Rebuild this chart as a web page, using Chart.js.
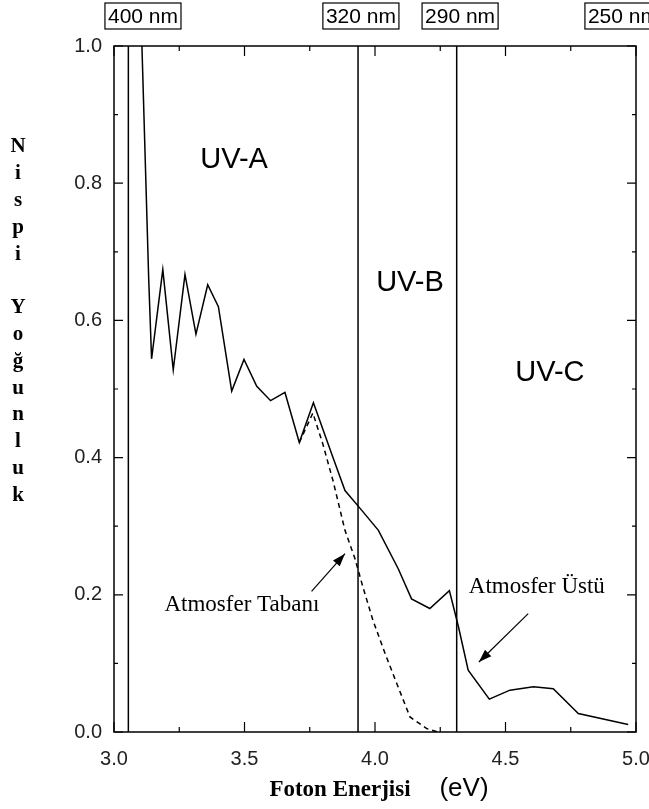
<!DOCTYPE html>
<html>
<head>
<meta charset="utf-8">
<script src="https://cdn.jsdelivr.net/npm/chart.js@4.4.0/dist/chart.umd.min.js"></script>
<style>
html, body { margin: 0; padding: 0; background: #fff; }
</style>
</head>
<body>
<canvas id="chart" width="649" height="809"></canvas>
<script>
// Atmosfer Üstü (solid line)
var energyTop = [3.107, 3.133, 3.144, 3.187, 3.227, 3.272, 3.314, 3.359, 3.40, 3.451, 3.498, 3.547, 3.60, 3.655, 3.71, 3.764, 3.839, 3.885, 3.943, 4.013, 4.089, 4.14, 4.21, 4.285, 4.32, 4.357, 4.438, 4.517, 4.607, 4.683, 4.779, 4.97];
var intensityTop = [1.0, 0.66, 0.544, 0.674, 0.528, 0.667, 0.58, 0.652, 0.62, 0.497, 0.543, 0.504, 0.483, 0.495, 0.422, 0.48, 0.4, 0.352, 0.326, 0.294, 0.238, 0.194, 0.18, 0.206, 0.153, 0.09, 0.048, 0.061, 0.066, 0.063, 0.027, 0.011];

// Atmosfer Tabanı (dashed line)
var energyBottom = [3.71, 3.762, 3.80, 3.84, 3.885, 3.923, 3.954, 3.992, 4.038, 4.083, 4.134, 4.198, 4.24];
var intensityBottom = [0.422, 0.465, 0.42, 0.365, 0.294, 0.253, 0.211, 0.163, 0.115, 0.071, 0.022, 0.005, 0.0];

// UV band boundaries (eV) and wavelength markers on top
var regionBounds = [3.055, 3.935, 4.313];
var waveLabels = ['400 nm', '320 nm', '290 nm', '250 nm'];
var waveEnergy = [3.111, 3.946, 4.326, 4.95];
var bandNames = ['UV-A', 'UV-B', 'UV-C'];

function toPoints(xs, ys) {
    return xs.map(function (v, i) { return { x: v, y: ys[i] }; });
}

function arrow(ctx, x1, y1, x2, y2) {
    var ang = Math.atan2(y2 - y1, x2 - x1);
    ctx.beginPath();
    ctx.moveTo(x1, y1);
    ctx.lineTo(x2, y2);
    ctx.stroke();
    ctx.beginPath();
    ctx.moveTo(x2, y2);
    ctx.lineTo(x2 - 13 * Math.cos(ang) + 4.5 * Math.sin(ang), y2 - 13 * Math.sin(ang) - 4.5 * Math.cos(ang));
    ctx.lineTo(x2 - 13 * Math.cos(ang) - 4.5 * Math.sin(ang), y2 - 13 * Math.sin(ang) + 4.5 * Math.cos(ang));
    ctx.closePath();
    ctx.fill();
}

var decorations = {
    id: 'decorations',
    afterDatasetsDraw: function (chart) {
        var ctx = chart.ctx, a = chart.chartArea;
        var sx = chart.scales.x, sy = chart.scales.y;
        ctx.save();
        ctx.strokeStyle = '#000';
        ctx.fillStyle = '#000';
        ctx.lineWidth = 1.5;

        // band boundaries
        regionBounds.forEach(function (e) {
            var px = sx.getPixelForValue(e);
            ctx.beginPath();
            ctx.moveTo(px, a.top);
            ctx.lineTo(px, a.bottom);
            ctx.stroke();
        });

        // frame
        ctx.strokeRect(a.left, a.top, a.right - a.left, a.bottom - a.top);

        // inward ticks
        ctx.lineWidth = 1.2;
        for (var v = 3; v <= 5.001; v += 0.25) {
            var px = sx.getPixelForValue(v);
            var len = (Math.round(v * 4) % 2 === 0) ? 10 : 5;
            ctx.beginPath();
            ctx.moveTo(px, a.bottom); ctx.lineTo(px, a.bottom - len);
            ctx.moveTo(px, a.top); ctx.lineTo(px, a.top + len);
            ctx.stroke();
        }
        for (var w = 0; w <= 1.001; w += 0.1) {
            var py = sy.getPixelForValue(w);
            var ln = (Math.round(w * 10) % 2 === 0) ? 9 : 4;
            ctx.beginPath();
            ctx.moveTo(a.left, py); ctx.lineTo(a.left + ln, py);
            ctx.moveTo(a.right, py); ctx.lineTo(a.right - ln, py);
            ctx.stroke();
        }

        // band names
        ctx.font = '29px "Liberation Sans", Arial, sans-serif';
        ctx.textAlign = 'center';
        ctx.textBaseline = 'middle';
        ctx.fillText(bandNames[0], sx.getPixelForValue(3.46), sy.getPixelForValue(0.834));
        ctx.fillText(bandNames[1], sx.getPixelForValue(4.134), sy.getPixelForValue(0.654));
        ctx.fillText(bandNames[2], sx.getPixelForValue(4.67), sy.getPixelForValue(0.523));

        // wavelength boxes above the plot
        ctx.font = '21px "Liberation Sans", Arial, sans-serif';
        ctx.lineWidth = 1.2;
        waveLabels.forEach(function (t, i) {
            var cx = sx.getPixelForValue(waveEnergy[i]);
            var tw = ctx.measureText(t).width;
            ctx.strokeRect(cx - tw / 2 - 3, 3, tw + 6, 26);
            ctx.fillText(t, cx, 17);
        });

        // annotations
        ctx.font = '23px "Liberation Serif", "Times New Roman", serif';
        ctx.fillText('Atmosfer Tabanı', sx.getPixelForValue(3.49), sy.getPixelForValue(0.185));
        ctx.fillText('Atmosfer Üstü', sx.getPixelForValue(4.62), sy.getPixelForValue(0.211));
        ctx.lineWidth = 1.2;
        arrow(ctx, sx.getPixelForValue(3.757), sy.getPixelForValue(0.205), sx.getPixelForValue(3.885), sy.getPixelForValue(0.26));
        arrow(ctx, sx.getPixelForValue(4.587), sy.getPixelForValue(0.1725), sx.getPixelForValue(4.398), sy.getPixelForValue(0.102));

        // y title, one letter per line
        ctx.font = 'bold 21px "Liberation Serif", "Times New Roman", serif';
        var letters = 'Nispi Yoğunluk'.split('');
        var yy = 147;
        letters.forEach(function (c) {
            if (c !== ' ') ctx.fillText(c, 18, yy);
            yy += 26.8;
        });

        // x title
        ctx.font = 'bold 23px "Liberation Serif", "Times New Roman", serif';
        ctx.fillText('Foton Enerjisi', 340, 790);
        ctx.font = '26px "Liberation Sans", Arial, sans-serif';
        ctx.fillText('(eV)', 464, 789);
        ctx.restore();
    }
};

var ctx = document.getElementById('chart').getContext('2d');

var spectrumChart = new Chart(ctx, {
    type: 'line',
    data: {
        datasets: [
            {
                label: 'Atmosfer Üstü',
                data: toPoints(energyTop, intensityTop),
                borderColor: '#000',
                borderWidth: 1.5,
                pointRadius: 0,
                tension: 0,
                fill: false
            },
            {
                label: 'Atmosfer Tabanı',
                data: toPoints(energyBottom, intensityBottom),
                borderColor: '#000',
                borderWidth: 1.5,
                borderDash: [5, 4],
                pointRadius: 0,
                tension: 0,
                fill: false
            }
        ]
    },
    options: {
        responsive: false,
        animation: false,
        layout: { padding: { left: 0, right: 13, top: 46, bottom: 0 } },
        plugins: { legend: { display: false }, tooltip: { enabled: false } },
        scales: {
            x: {
                type: 'linear',
                min: 3,
                max: 5,
                grid: { display: false, drawTicks: false },
                border: { display: false },
                ticks: {
                    stepSize: 0.5,
                    padding: 15,
                    color: '#222',
                    font: { family: '"Liberation Sans", Arial, sans-serif', size: 20 },
                    maxRotation: 0,
                    callback: function (v) { return v.toFixed(1); }
                },
                afterFit: function (s) { s.height = 77; s.paddingLeft = 0; s.paddingRight = 0; }
            },
            y: {
                min: 0,
                max: 1,
                grid: { display: false, drawTicks: false },
                border: { display: false },
                ticks: {
                    stepSize: 0.2,
                    padding: 12,
                    color: '#222',
                    font: { family: '"Liberation Sans", Arial, sans-serif', size: 20 },
                    callback: function (v) { return v.toFixed(1); }
                },
                afterFit: function (s) { s.width = 114; s.paddingTop = 0; s.paddingBottom = 0; }
            }
        }
    },
    plugins: [decorations]
});
</script>
</body>
</html>
